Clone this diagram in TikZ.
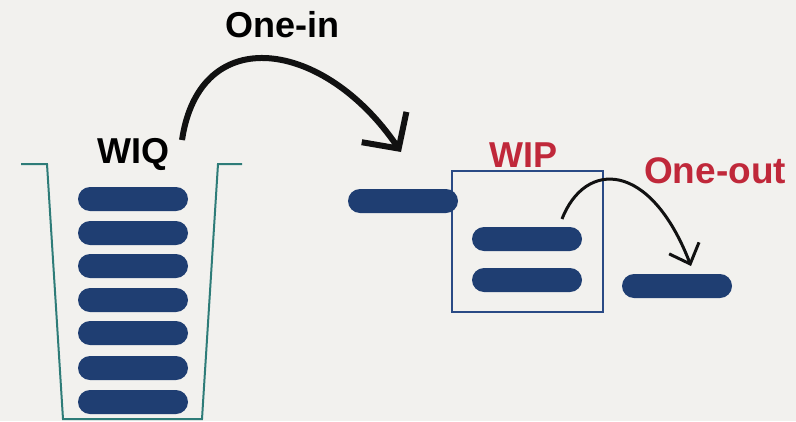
\documentclass[tikz,border=0pt]{standalone}
\usepackage{fontspec}
\setmainfont{Liberation Sans}
\usetikzlibrary{arrows.meta}
\definecolor{bg}{HTML}{F2F1EE}
\definecolor{barblue}{HTML}{1F3E72}
\definecolor{boxblue}{HTML}{2A4A85}
\definecolor{teal}{HTML}{2E7C78}
\definecolor{wipred}{HTML}{C0283A}
\definecolor{ink}{HTML}{111111}
\tikzset{
  bar/.style={fill=barblue, draw=none, minimum width=110pt, minimum height=24pt, rounded corners=12pt, inner sep=0pt},
  lbl/.style={anchor=base west, inner sep=0pt, font=\bfseries\fontsize{36}{40}\selectfont},
  bigarrow/.style={draw=ink, line width=6pt, -{Straight Barb[length=26pt,width=54pt,line width=6pt]}},
  smallarrow/.style={draw=ink, line width=3pt, -{Straight Barb[length=17pt,width=32pt,line width=3pt]}}
}
\begin{document}
\begin{tikzpicture}[x=1pt,y=-1pt]
\fill[bg] (0,0) rectangle (796,421);
\useasboundingbox (0,0) rectangle (796,421);
% bucket
\draw[teal, line width=2pt] (21,164) -- (47,164) -- (63,419) -- (202,419) -- (218,164) -- (242,164);
% queue bars
\foreach \i/\y in {1/199,2/233,3/266,4/300,5/333,6/368,7/402}
  \node[bar] (q\i) at (133,\y) {};
% labels
\node[lbl, text=black] (wiq) at (97,163) {WIQ};
\node[lbl, text=black] (onein) at (225,37) {One-in};
\node[lbl, text=wipred] (wip) at (489,167) {WIP};
\node[lbl, text=wipred, font=\bfseries\fontsize{37}{40}\selectfont] (oneout) at (644,183) {One-out};
% WIP box
\node[draw=boxblue, line width=1.6pt, minimum width=151pt, minimum height=141pt, inner sep=0pt] (wipbox) at (527.5,241.5) {};
% bars
\node[bar] (inbar) at (403,201) {};
\node[bar] (w1) at (527,239) {};
\node[bar] (w2) at (527,280) {};
\node[bar] (outbar) at (677,286) {};
% arrow anchor points
\coordinate (a1s) at (182,140);
\coordinate (a1e) at (401,152);
\coordinate (a2s) at (562,219);
\coordinate (a2e) at (691,266);
\draw[bigarrow] (a1s) .. controls (200,20) and (325,40) .. (a1e);
\draw[smallarrow] (a2s) .. controls (585,160) and (650,160) .. (a2e);
\end{tikzpicture}
\end{document}
